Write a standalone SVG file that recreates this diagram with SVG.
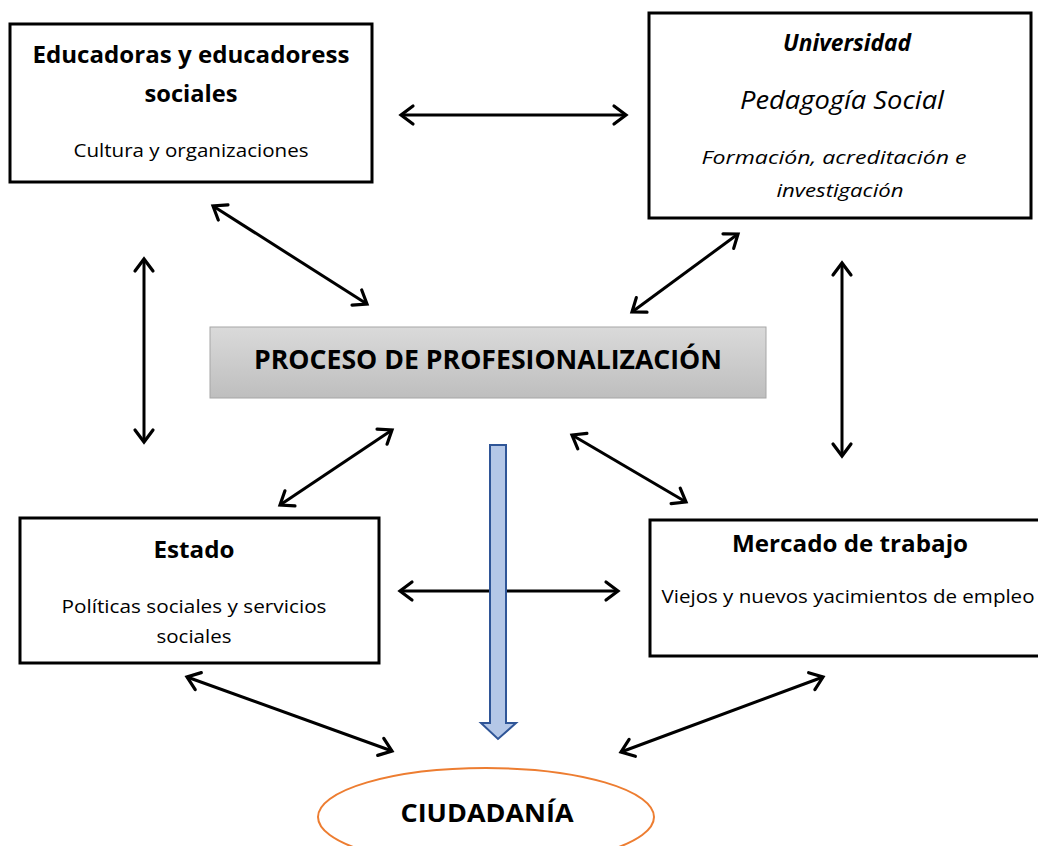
<svg xmlns="http://www.w3.org/2000/svg" width="1038" height="846" viewBox="0 0 1038 846">
<defs>
<marker id="ah" markerUnits="userSpaceOnUse" viewBox="-16 -12 20 24" refX="0" refY="0" markerWidth="20" markerHeight="24" orient="auto-start-reverse">
<path d="M -12 -9 L 0 0 L -12 9" fill="none" stroke="#000" stroke-width="3.2" stroke-linecap="round" stroke-linejoin="miter"/>
</marker>
<linearGradient id="gray" x1="0" y1="0" x2="0" y2="1">
<stop offset="0" stop-color="#DADADA"/>
<stop offset="1" stop-color="#BEBEBE"/>
</linearGradient>
</defs>
<style>
.box{fill:#fff;stroke:#000;stroke-width:3}
.t{font-family:"Open Sans","Liberation Sans",sans-serif;fill:#000;text-anchor:middle}
.b{font-weight:bold}
.i{font-style:italic}
.c{fill:none;stroke:#000;stroke-width:3;marker-start:url(#ah);marker-end:url(#ah)}
</style>
<rect width="1038" height="846" fill="#fff"/>
<g id="connectors">
<line class="c" x1="401" y1="115" x2="626" y2="115"/>
<line class="c" x1="213" y1="206" x2="367" y2="304"/>
<line class="c" x1="738" y1="234" x2="632" y2="312"/>
<line class="c" x1="144" y1="259" x2="144" y2="442"/>
<line class="c" x1="842" y1="263" x2="842" y2="456"/>
<line class="c" x1="392" y1="430" x2="280" y2="505"/>
<line class="c" x1="572" y1="435" x2="686" y2="502"/>
<line class="c" x1="400" y1="591" x2="618" y2="591"/>
<line class="c" x1="187" y1="677" x2="392" y2="751"/>
<line class="c" x1="823" y1="677" x2="621" y2="752"/>
</g>
<g id="educadores">
<rect class="box" x="10" y="24" width="362" height="158"/>
<text class="t b" x="191" y="63" font-size="24" textLength="317" lengthAdjust="spacingAndGlyphs">Educadoras y educadoress</text>
<text class="t b" x="191" y="102" font-size="24" textLength="93" lengthAdjust="spacingAndGlyphs">sociales</text>
<text class="t" x="191" y="157" font-size="18" textLength="235" lengthAdjust="spacingAndGlyphs">Cultura y organizaciones</text>
</g>
<g id="universidad">
<rect class="box" x="649" y="13" width="382" height="205"/>
<text class="t b i" x="847" y="51" font-size="23.5" textLength="128" lengthAdjust="spacingAndGlyphs">Universidad</text>
<text class="t i" x="842" y="109" font-size="25" textLength="204" lengthAdjust="spacingAndGlyphs">Pedagogía Social</text>
<text class="t i" x="834" y="164" font-size="18" textLength="265" lengthAdjust="spacingAndGlyphs">Formación, acreditación e</text>
<text class="t i" x="840" y="197" font-size="18" textLength="127" lengthAdjust="spacingAndGlyphs">investigación</text>
</g>
<g id="proceso">
<rect x="210" y="327" width="556" height="71" fill="url(#gray)" stroke="#A6A6A6" stroke-width="1"/>
<text class="t b" x="488" y="369" font-size="27" textLength="468" lengthAdjust="spacingAndGlyphs">PROCESO DE PROFESIONALIZACIÓN</text>
</g>
<g id="estado">
<rect class="box" x="20" y="518" width="359" height="145"/>
<text class="t b" x="194" y="558" font-size="23" textLength="81" lengthAdjust="spacingAndGlyphs">Estado</text>
<text class="t" x="194" y="613" font-size="18" textLength="265" lengthAdjust="spacingAndGlyphs">Políticas sociales y servicios</text>
<text class="t" x="194" y="643" font-size="18" textLength="75" lengthAdjust="spacingAndGlyphs">sociales</text>
</g>
<g id="mercado">
<rect class="box" x="650" y="520" width="400" height="136"/>
<text class="t b" x="850" y="552" font-size="23" textLength="236" lengthAdjust="spacingAndGlyphs">Mercado de trabajo</text>
<text class="t" x="848" y="603" font-size="18" textLength="373" lengthAdjust="spacingAndGlyphs">Viejos y nuevos yacimientos de empleo</text>
</g>
<g id="flecha">
<path d="M 490 445 L 506 445 L 506 723 L 516 723 L 498 739 L 481 723 L 490 723 Z" fill="#B4C7E7" stroke="#2F5597" stroke-width="2" stroke-linejoin="miter"/>
</g>
<g id="ciudadania">
<ellipse cx="486" cy="817" rx="168" ry="49" fill="#fff" stroke="#ED7D31" stroke-width="2"/>
<text class="t b" x="487" y="822" font-size="25" textLength="173" lengthAdjust="spacingAndGlyphs">CIUDADANÍA</text>
</g>
</svg>
